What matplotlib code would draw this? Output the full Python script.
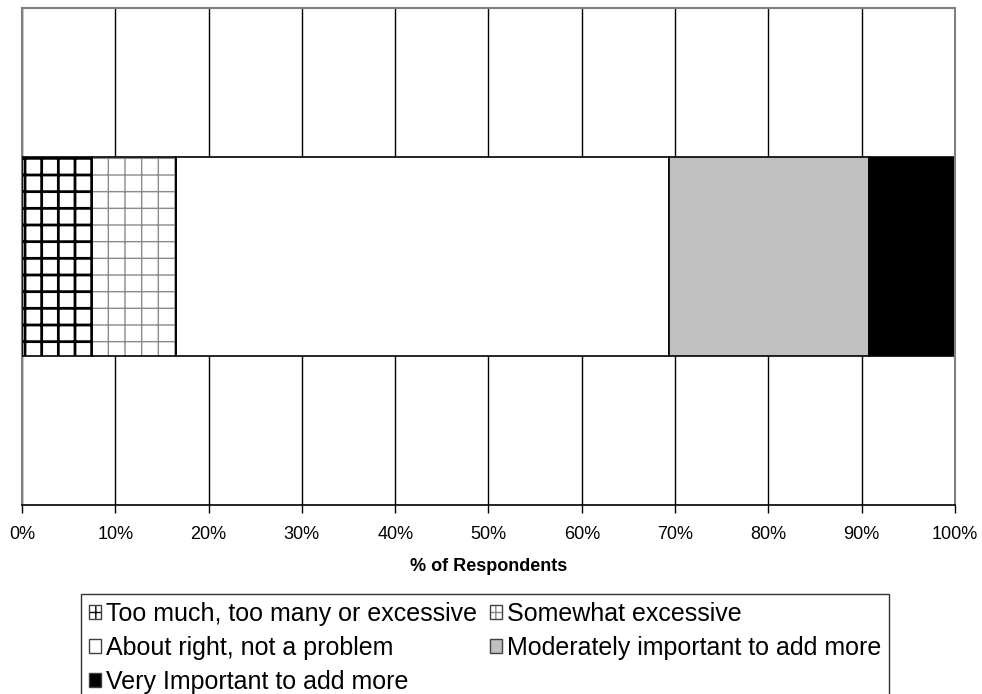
import numpy as np
import matplotlib
matplotlib.use('Agg')
import matplotlib.pyplot as plt
from matplotlib.patches import Patch
from matplotlib.legend_handler import HandlerTuple

# ==========================================
# DATA
# ==========================================
categories = ['Too much, too many or excessive', 'Somewhat excessive',
              'About right, not a problem', 'Moderately important to add more',
              'Very Important to add more']
values = [7.5, 9.0, 52.8, 21.5, 9.2]   # % of respondents
x_ticks = np.arange(0, 101, 10)
tick_labels = [f'{t}%' for t in x_ticks]

colors = ['white', 'white', 'white', '#c0c0c0', 'black']
hatches = ['+', '+', None, None, None]
hatch_colors = ['black', '#8a8a8a', None, None, None]
hatch_widths = [2.0, 1.0, None, None, None]

plt.rcParams['font.family'] = ['Liberation Sans', 'DejaVu Sans']

fig = plt.figure(figsize=(9.82, 6.94), dpi=100)
ax = fig.add_axes([0.0224, 0.2723, 0.9501, 0.7155])

# ==========================================
# BARRA APILADA
# ==========================================
left = 0
for val, col, h, hc, hw in zip(values, colors, hatches, hatch_colors, hatch_widths):
    if h is not None:
        # capa del rayado (color propio), luego el contorno negro encima
        with plt.rc_context({'hatch.linewidth': hw}):
            ax.barh(0, val, left=left, height=0.8, color=col, edgecolor=hc,
                    hatch=h, linewidth=0, zorder=2)
        ax.barh(0, val, left=left, height=0.8, color='none', edgecolor='black',
                linewidth=1.2, zorder=3)
    else:
        ax.barh(0, val, left=left, height=0.8, color=col, edgecolor='black',
                linewidth=1.2, zorder=2)
    left += val

ax.set_xlim(0, 100)
ax.set_ylim(-1, 1)
ax.set_yticks([])
ax.set_xticks(x_ticks)
ax.set_xticklabels(tick_labels, fontsize=13)
ax.tick_params(axis='x', direction='out', length=6, width=1, pad=9, color='black')
ax.set_axisbelow(True)
ax.grid(axis='x', color='black', linewidth=1)

for s in ['top', 'left', 'right']:
    ax.spines[s].set_color('#808080')
    ax.spines[s].set_linewidth(1.5)
ax.spines['bottom'].set_color('black')
ax.spines['bottom'].set_linewidth(1.2)

ax.set_xlabel('% of Respondents', fontsize=13, fontweight='bold', labelpad=11)

# ==========================================
# LEYENDA (orden por filas)
# ==========================================
handles = []
for col, h, hc, hw in zip(colors, hatches, hatch_colors, hatch_widths):
    if h is not None:
        with plt.rc_context({'hatch.linewidth': hw * 0.7}):
            relleno = Patch(facecolor=col, edgecolor=hc, hatch=h * 2, linewidth=0)
        borde = Patch(facecolor='none', edgecolor='#404040', linewidth=1)
        handles.append((relleno, borde))
    else:
        handles.append(Patch(facecolor=col, edgecolor='#404040', linewidth=1))

order = [0, 2, 4, 1, 3]
leg = fig.legend([handles[i] for i in order], [categories[i] for i in order],
                 handler_map={tuple: HandlerTuple(ndivide=1)},
                 ncol=2, loc='upper center', bbox_to_anchor=(0.494, 0.144),
                 bbox_transform=fig.transFigure, fontsize=18, frameon=True,
                 fancybox=False, edgecolor='black', borderaxespad=0,
                 handlelength=0.5, handleheight=0.5, handletextpad=0.2,
                 columnspacing=0.5, labelspacing=0.41, borderpad=0.3)
leg.get_frame().set_linewidth(1)

plt.savefig('out.png', dpi=100)
